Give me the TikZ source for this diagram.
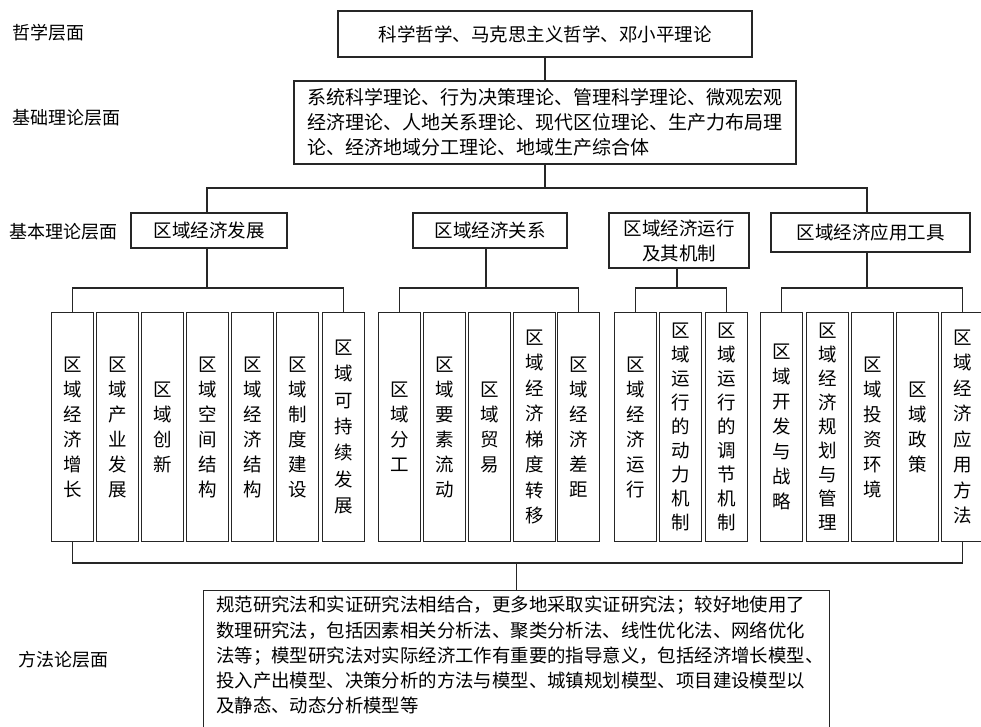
\documentclass[tikz,border=0pt]{standalone}
\usepackage{fontspec}
\setmainfont{Noto Sans CJK SC}
\begin{document}
\begin{tikzpicture}[x=1pt,y=-1pt,
  box/.style={draw=black!85, line width=1.1pt, inner sep=0pt, font=\fontsize{18.5}{25}\selectfont},
  col/.style={box, minimum width=42pt, minimum height=229pt, align=center, anchor=north west},
  lab/.style={anchor=west, inner sep=0pt, font=\fontsize{18}{22}\selectfont},
  conn/.style={draw=black!85, line width=1.1pt},
  p24/.style={font=\fontsize{18.5}{24}\selectfont},
  p26/.style={font=\fontsize{18.5}{26.4}\selectfont},
  p255/.style={font=\fontsize{18.5}{25.5}\selectfont}]
\useasboundingbox (0,0) rectangle (981,727);
\begin{scope}
\clip (0,0) rectangle (981,727);
% level labels
\node[lab] (l1) at (12,33) {哲学层面};
\node[lab] (l2) at (12,118) {基础理论层面};
\node[lab] (l3) at (9,232) {基本理论层面};
\node[lab] (l4) at (18,660) {方法论层面};
% top boxes
\node[box, minimum width=414pt, minimum height=46pt] (top) at (545,34) {科学哲学、马克思主义哲学、邓小平理论};
\node[box, minimum width=502pt, minimum height=83pt, align=left, font=\fontsize{19}{25}\selectfont] (found) at (545,122.5)
  {系统科学理论、行为决策理论、管理科学理论、微观宏观\\经济理论、人地关系理论、现代区位理论、生产力布局理\\论、经济地域分工理论、地域生产综合体};
% group boxes
\node[box, minimum width=156pt, minimum height=35pt] (g1) at (209,230.5) {区域经济发展};
\node[box, minimum width=154pt, minimum height=35pt] (g2) at (490,230.5) {区域经济关系};
\node[box, minimum width=140pt, minimum height=55pt, align=center] (g3) at (679,240.5) {区域经济运行\\及其机制};
\node[box, minimum width=199pt, minimum height=39pt] (g4) at (870.5,232.5) {区域经济应用工具};
% columns group 1
\node[col] (c11) at (51,312) {区\\域\\经\\济\\增\\长};
\node[col] (c12) at (96,312) {区\\域\\产\\业\\发\\展};
\node[col] (c13) at (141,312) {区\\域\\创\\新};
\node[col] (c14) at (186,312) {区\\域\\空\\间\\结\\构};
\node[col] (c15) at (231,312) {区\\域\\经\\济\\结\\构};
\node[col] (c16) at (276,312) {区\\域\\制\\度\\建\\设};
\node[col,p26] (c17) at (322,312) {区\\域\\可\\持\\续\\发\\展};
% columns group 2
\node[col] (c21) at (378,312) {区\\域\\分\\工};
\node[col] (c22) at (423,312) {区\\域\\要\\素\\流\\动};
\node[col] (c23) at (468,312) {区\\域\\贸\\易};
\node[col,p255] (c24) at (513,312) {区\\域\\经\\济\\梯\\度\\转\\移};
\node[col] (c25) at (557,312) {区\\域\\经\\济\\差\\距};
% columns group 3
\node[col] (c31) at (614,312) {区\\域\\经\\济\\运\\行};
\node[col,p24] (c32) at (659,312) {区\\域\\运\\行\\的\\动\\力\\机\\制};
\node[col,p24] (c33) at (705,312) {区\\域\\运\\行\\的\\调\\节\\机\\制};
% columns group 4
\node[col] (c41) at (760,312) {区\\域\\开\\发\\与\\战\\略};
\node[col,p24] (c42) at (806,312) {区\\域\\经\\济\\规\\划\\与\\管\\理};
\node[col] (c43) at (851,312) {区\\域\\投\\资\\环\\境};
\node[col] (c44) at (896,312) {区\\域\\政\\策};
\node[col,p255] (c45) at (941,312) {区\\域\\经\\济\\应\\用\\方\\法};
% method box
\node[box, anchor=north west, minimum width=626pt, minimum height=150pt] (meth) at (203,590) {};
\node[anchor=north west, inner sep=0pt, align=left, font=\fontsize{18.4}{25.3}\selectfont] (methtxt) at (216,596)
  {规范研究法和实证研究法相结合，更多地采取实证研究法；较好地使用了\\
   数理研究法，包括因素相关分析法、聚类分析法、线性优化法、网络优化\\
   法等；模型研究法对实际经济工作有重要的指导意义，包括经济增长模型、\\
   投入产出模型、决策分析的方法与模型、城镇规划模型、项目建设模型以\\
   及静态、动态分析模型等};
% connectors
\coordinate (bt) at (0,188);
\coordinate (bm) at (0,288);
\coordinate (bb) at (0,563);
\path[conn] (top.south) -- (found.north);
\path[conn] (found.south) -- (found.south |- bt);
\path[conn] ([xshift=-2pt]g1.north) -- ([xshift=-2pt]g1.north |- bt) -- ([xshift=-3.5pt]g4.north |- bt) -- ([xshift=-3.5pt]g4.north);
\path[conn] ([xshift=-2pt]g1.south) -- ([xshift=-2pt]g1.south |- bm);
\path[conn] ([xshift=-4pt]g2.south) -- ([xshift=-4pt]g2.south |- bm);
\path[conn] ([xshift=-2pt]g3.south) -- ([xshift=-2pt]g3.south |- bm);
\path[conn] ([xshift=-3.5pt]g4.south) -- ([xshift=-3.5pt]g4.south |- bm);
\path[conn] (c11.north) -- (c11.north |- bm) -- (c17.north |- bm) -- (c17.north);
\path[conn] (c21.north) -- (c21.north |- bm) -- (c25.north |- bm) -- (c25.north);
\path[conn] (c31.north) -- (c31.north |- bm) -- (c33.north |- bm) -- (c33.north);
\path[conn] (c41.north) -- (c41.north |- bm) -- (c45.north |- bm) -- (c45.north);
\path[conn] (c11.south) -- (c11.south |- bb) -- (c45.south |- bb) -- (c45.south);
\path[conn] (meth.north) -- (meth.north |- bb);
\end{scope}
\end{tikzpicture}
\end{document}
